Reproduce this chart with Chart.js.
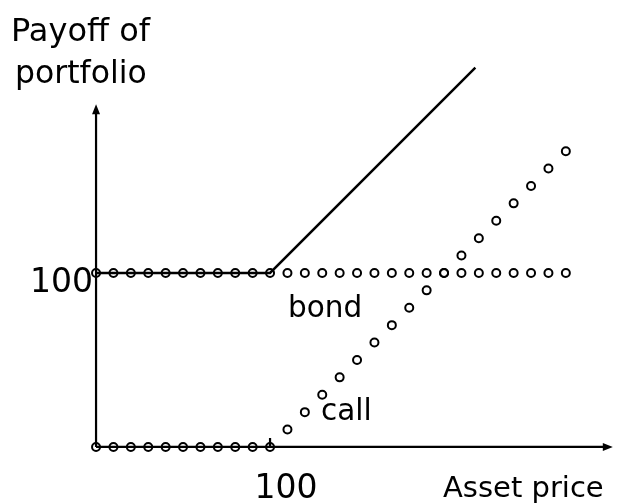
<!DOCTYPE html>
<html>
<head>
<meta charset="utf-8">
<script src="https://cdn.jsdelivr.net/npm/chart.js@4/dist/chart.umd.min.js"></script>
<style>
  html, body { margin: 0; padding: 0; background: #fff; }
  #wrap { width: 617px; height: 504px; }
</style>
</head>
<body>
<div id="wrap"><canvas id="myChart" width="617" height="504"></canvas></div>
<script>
// asset price grid (one dot every 10)
const prices = [0, 10, 20, 30, 40, 50, 60, 70, 80, 90, 100, 110, 120, 130,
    140, 150, 160, 170, 180, 190, 200, 210, 220, 230, 240, 250, 260, 270];
const bondPayoff = [100, 100, 100, 100, 100, 100, 100, 100, 100, 100, 100, 100, 100, 100,
    100, 100, 100, 100, 100, 100, 100, 100, 100, 100, 100, 100, 100, 100];
const callPayoff = [0, 0, 0, 0, 0, 0, 0, 0, 0, 0, 0, 10, 20, 30,
    40, 50, 60, 70, 80, 90, 100, 110, 120, 130, 140, 150, 160, 170];
const portfolioPrices = [0, 100, 218];
const portfolioPayoff = [100, 100, 218];

const strike = 100;
const faceValue = 100;
const xAxisEnd = 297;
const yAxisEnd = 197;

const font = '"DejaVu Sans", sans-serif';

const axesPlugin = {
    id: 'axes',
    beforeDatasetsDraw(chart) {
        const {ctx, scales: {x, y}} = chart;
        const x0 = x.getPixelForValue(0), y0 = y.getPixelForValue(0);
        const x1 = x.getPixelForValue(xAxisEnd), y1 = y.getPixelForValue(yAxisEnd);
        ctx.save();
        ctx.strokeStyle = '#000';
        ctx.fillStyle = '#000';
        ctx.lineWidth = 2.2;
        ctx.beginPath();
        ctx.moveTo(x0, y0); ctx.lineTo(x1 - 6, y0);
        ctx.moveTo(x0, y0); ctx.lineTo(x0, y1 + 6);
        // tick at strike
        const xs = x.getPixelForValue(strike);
        ctx.moveTo(xs, y0); ctx.lineTo(xs, y0 - 9);
        ctx.stroke();
        // arrow heads
        ctx.beginPath();
        ctx.moveTo(x1, y0); ctx.lineTo(x1 - 10, y0 - 4); ctx.lineTo(x1 - 10, y0 + 4); ctx.closePath();
        ctx.moveTo(x0, y1); ctx.lineTo(x0 - 4, y1 + 10); ctx.lineTo(x0 + 4, y1 + 10); ctx.closePath();
        ctx.fill();

        // labels
        ctx.textBaseline = 'alphabetic';
        ctx.font = '33px ' + font;
        ctx.textAlign = 'right';
        ctx.fillText('100', x0 - 3, y.getPixelForValue(faceValue) + 19);
        ctx.textAlign = 'center';
        ctx.fillText('100', xs + 16, 498);
        ctx.textAlign = 'left';
        ctx.font = '29px ' + font;
        ctx.fillText('Asset price', 443, 497);
        ctx.font = '29.5px ' + font;
        ctx.fillText('bond', 288, 317);
        ctx.fillText('call', 321, 420);
        ctx.font = '32px ' + font;
        ctx.fillText('Payoff of', 11, 41);
        ctx.font = '31.5px ' + font;
        ctx.fillText('portfolio', 15, 83);
        ctx.restore();
    }
};

const dotStyle = {
    showLine: false,
    pointStyle: 'circle',
    pointRadius: 4,
    pointBorderWidth: 2,
    pointBorderColor: '#000',
    pointBackgroundColor: 'rgba(0,0,0,0)'
};

const config = {
    type: 'scatter',
    data: {
        datasets: [
            {
                label: 'bond',
                data: prices.map((p, i) => ({x: p, y: bondPayoff[i]})),
                ...dotStyle
            },
            {
                label: 'call',
                data: prices.map((p, i) => ({x: p, y: callPayoff[i]})),
                ...dotStyle
            },
            {
                label: 'portfolio',
                data: portfolioPrices.map((p, i) => ({x: p, y: portfolioPayoff[i]})),
                showLine: true,
                borderColor: '#000',
                borderWidth: 2.5,
                pointRadius: 0,
                tension: 0
            }
        ]
    },
    options: {
        responsive: false,
        animation: false,
        layout: {padding: 0, autoPadding: false},
        plugins: {legend: {display: false}, tooltip: {enabled: false}},
        scales: {
            x: {type: 'linear', display: false, min: -55.2, max: 299.4},
            y: {type: 'linear', display: false, min: -32.8, max: 256.9}
        }
    },
    plugins: [axesPlugin]
};

const myChart = new Chart(document.getElementById('myChart'), config);
</script>
</body>
</html>
